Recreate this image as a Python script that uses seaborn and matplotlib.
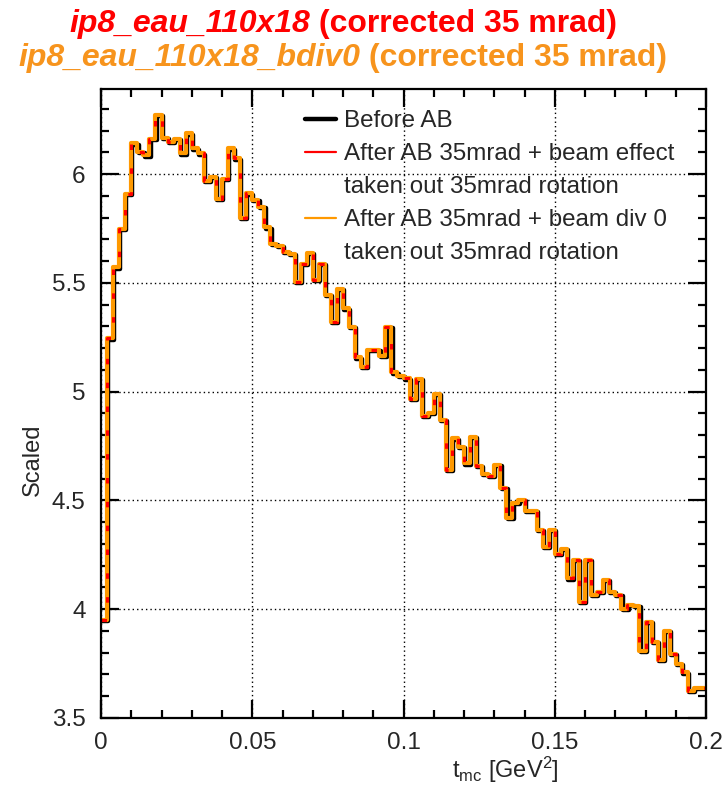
import numpy as np
import pandas as pd
import matplotlib
matplotlib.use("Agg")
import matplotlib.pyplot as plt
from matplotlib.lines import Line2D
from matplotlib.ticker import MultipleLocator, FuncFormatter
import matplotlib.transforms as mtransforms
import seaborn as sns

# ---------------- data ----------------
x_min, x_max, n_bins = 0.0, 0.2, 100

before_ab = [
    3.950, 5.245, 5.571, 5.747, 5.908, 6.141, 6.102, 6.086, 6.162, 6.271,
    6.167, 6.149, 6.162, 6.095, 6.187, 6.118, 6.095, 5.968, 5.988, 5.885,
    5.978, 6.118, 6.072, 5.800, 5.911, 5.881, 5.850, 5.755, 5.678, 5.669,
    5.643, 5.632, 5.504, 5.588, 5.636, 5.515, 5.588, 5.444, 5.322, 5.472,
    5.383, 5.298, 5.157, 5.115, 5.191, 5.191, 5.165, 5.299, 5.088, 5.071,
    5.061, 4.966, 5.058, 4.890, 4.904, 4.990, 4.870, 4.640, 4.785, 4.747,
    4.670, 4.793, 4.659, 4.622, 4.614, 4.663, 4.556, 4.419, 4.489, 4.502,
    4.452, 4.452, 4.364, 4.288, 4.364, 4.253, 4.276, 4.142, 4.228, 4.035,
    4.226, 4.066, 4.080, 4.134, 4.081, 4.066, 4.000, 4.020, 4.015, 3.808,
    3.940, 3.851, 3.767, 3.901, 3.794, 3.748, 3.710, 3.625, 3.640, 3.640,
]
# the two "after AB" histograms coincide with "before AB" within the line width
after_ab_beam = list(before_ab)
after_ab_bdiv0 = list(before_ab)

legend_labels = [
    "Before AB",
    "After AB 35mrad + beam effect",
    "taken out 35mrad rotation",
    "After AB 35mrad + beam div 0",
    "taken out 35mrad rotation",
]
title_red = ("ip8_eau_110x18", " (corrected 35 mrad)")
title_orange = ("ip8_eau_110x18_bdiv0", " (corrected 35 mrad)")
x_label = r"t$_{\mathregular{mc}}$ [GeV$^{\mathregular{2}}$]"
y_label = "Scaled"

# ---------------- style ----------------
sns.set_theme(style="white")
plt.rcParams["font.family"] = ["Liberation Sans", "DejaVu Sans"]
plt.rcParams["mathtext.fontset"] = "custom"
plt.rcParams["mathtext.rm"] = "Liberation Sans"
plt.rcParams["mathtext.it"] = "Liberation Sans:italic"

W, H = 723, 787
fig = plt.figure(figsize=(W / 100, H / 100), dpi=100)
fig.patch.set_facecolor("white")
ax = fig.add_axes([101 / W, 1 - 718 / H, 605 / W, 629 / H])
ax.set_facecolor("white")

edges = np.linspace(x_min, x_max, n_bins + 1)

def step_frame(vals, name):
    return pd.DataFrame({"t": edges, "v": list(vals) + [vals[-1]], "s": name})

RED = "#ff0000"
ORANGE = "#ff9900"

sns.lineplot(data=step_frame(before_ab, "before"), x="t", y="v", ax=ax,
             color="black", lw=3.2, drawstyle="steps-post",
             estimator=None, sort=False, legend=False, zorder=3)
# black histogram peeks out slightly to the lower right, as in the reference
black_line = ax.lines[-1]
black_line.set_transform(mtransforms.offset_copy(ax.transData, fig=fig,
                                                 x=1.2, y=-1.2, units="dots"))
sns.lineplot(data=step_frame(after_ab_bdiv0, "bdiv0"), x="t", y="v", ax=ax,
             color=ORANGE, lw=3.0, drawstyle="steps-post",
             estimator=None, sort=False, legend=False, zorder=4)
sns.lineplot(data=step_frame(after_ab_beam, "beam"), x="t", y="v", ax=ax,
             color=RED, lw=2.2, drawstyle="steps-post",
             linestyle=(0, (1.8, 6.0)),
             estimator=None, sort=False, legend=False, zorder=5)

ax.set_xlim(x_min, x_max)
ax.set_ylim(3.5, 6.391)

ax.xaxis.set_major_locator(MultipleLocator(0.05))
ax.xaxis.set_minor_locator(MultipleLocator(0.01))
ax.yaxis.set_major_locator(MultipleLocator(0.5))
ax.yaxis.set_minor_locator(MultipleLocator(0.1))
fmt = FuncFormatter(lambda v, p: f"{v:g}")
ax.xaxis.set_major_formatter(fmt)
ax.yaxis.set_major_formatter(fmt)

ax.tick_params(which="both", direction="in", top=True, right=True,
               bottom=True, left=True, color="black", width=1.6)
ax.tick_params(which="major", length=13, labelsize=17.5)
ax.tick_params(axis="y", which="major", pad=11)
ax.tick_params(axis="x", which="major", pad=10)
ax.tick_params(which="minor", length=6)

ax.grid(True, which="major", color="black", linestyle=(0, (1, 2.2)), lw=1.0)
for sp in ax.spines.values():
    sp.set_color("black")
    sp.set_linewidth(1.6)
    sp.set_zorder(6)

ax.set_xlabel(x_label, fontsize=17, va="center")
ax.set_ylabel(y_label, fontsize=17, va="center")
ax.xaxis.set_label_coords(0.668, -0.083)
ax.yaxis.set_label_coords(-0.112, 0.41)

# legend
handles = [
    Line2D([], [], color="black", lw=3.2),
    Line2D([], [], color=RED, lw=1.6),
    Line2D([], [], color="none", lw=0),
    Line2D([], [], color=ORANGE, lw=1.6),
    Line2D([], [], color="none", lw=0),
]
ax.legend(handles, legend_labels, loc="upper left",
          bbox_to_anchor=((305 - 101) / 605, (718 - 110) / 629),
          frameon=False, fontsize=17.4, handlelength=1.3, handletextpad=0.33,
          labelspacing=0.46, borderpad=0, borderaxespad=0)

# two-coloured, mixed italic/upright titles
renderer = fig.canvas.get_renderer()

def title_line(parts, y_px, color, size=23.0, center_px=343):
    texts = []
    for s, style in zip(parts, ["italic", "normal"]):
        t = fig.text(0, 1 - y_px / H, s, color=color, fontsize=size,
                     fontweight="bold", fontstyle=style, va="center", ha="left")
        texts.append(t)
    widths = [t.get_window_extent(renderer).width for t in texts]
    x = center_px - sum(widths) / 2
    for t, w in zip(texts, widths):
        t.set_x(x / W)
        x += w

title_line(title_red, 24, RED)
title_line(title_orange, 58, "#f7941d")

fig.savefig("out.png", dpi=100, facecolor="white")
